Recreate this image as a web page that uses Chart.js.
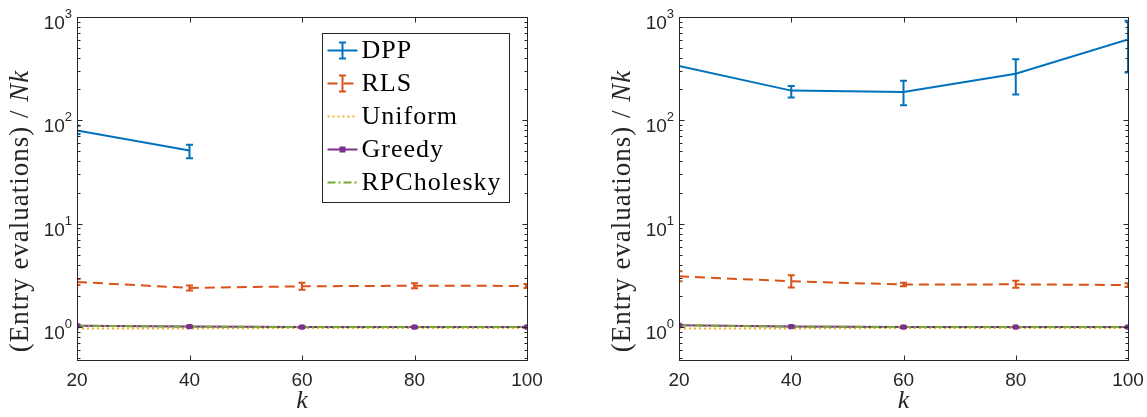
<!DOCTYPE html>
<html>
<head>
<meta charset="utf-8">
<script src="https://cdn.jsdelivr.net/npm/chart.js@4.4.1/dist/chart.umd.min.js"></script>
<style>
  body { margin: 0; background: #fff; width: 1147px; height: 417px; overflow: hidden; position: relative; }
  .panel { position: absolute; top: 0; height: 417px; }
  #left { left: 0; width: 602px; }
  #right { left: 602px; width: 545px; }
</style>
</head>
<body>
<div class="panel" id="left"><canvas id="chartLeft"></canvas></div>
<div class="panel" id="right"><canvas id="chartRight"></canvas></div>
<script>
// ---- data ----
const kValues = [20, 40, 60, 80, 100];
const yTickExps = [0, 1, 2, 3];
const seriesNames = ['DPP', 'RLS', 'Uniform', 'Greedy', 'RPCholesky'];

// left panel
const dppLeft    = [80, 51, null, null, null];
const dppLeftLo  = [73.6, 43, null, null, null];
const dppLeftHi  = [88.5, 58, null, null, null];
const rlsLeft    = [2.73, 2.39, 2.48, 2.51, 2.50];
const rlsLeftLo  = [2.55, 2.26, 2.29, 2.37, 2.39];
const rlsLeftHi  = [2.92, 2.53, 2.68, 2.65, 2.61];
const uniformLeft = [0.97, 0.97, 0.98, 0.98, 0.98];
const greedyLeft  = [1.03, 1.01, 1.0, 1.0, 1.0];
const greedyLeftLo = [1.01, 0.99, 0.98, 0.985, 0.985];
const greedyLeftHi = [1.05, 1.03, 1.02, 1.015, 1.015];
const rpcLeft     = [1.03, 1.01, 1.0, 1.0, 1.0];

// right panel
const dppRight    = [336, 194, 188, 283, 608];
const dppRightLo  = [null, 166, 140, 178, 290];
const dppRightHi  = [null, 215, 241, 390, 921];
const rlsRight    = [3.10, 2.77, 2.58, 2.59, 2.55];
const rlsRightLo  = [2.77, 2.42, 2.48, 2.40, 2.44];
const rlsRightHi  = [3.47, 3.17, 2.69, 2.80, 2.66];
const uniformRight = [0.97, 0.97, 0.98, 0.98, 0.98];
const greedyRight  = [1.04, 1.01, 1.0, 1.0, 1.0];
const greedyRightLo = [1.02, 0.99, 0.98, 0.985, 0.985];
const greedyRightHi = [1.06, 1.03, 1.02, 1.015, 1.015];
const rpcRight     = [1.04, 1.01, 1.0, 1.0, 1.0];

const COLORS = ['#0072BD', '#D95319', '#EDB120', '#7E2F8E', '#77AC30'];
const DASHES = [[], [10, 6], [2, 3], [], [8, 3, 2, 3]];
const AXIS = '#262626';
const SANS = '"Liberation Sans", Arial, sans-serif';
const SERIF = '"Liberation Serif", "Times New Roman", serif';

function makeDatasets(dpp, dppLo, dppHi, rls, rlsLo, rlsHi, uni, gr, grLo, grHi, rpc) {
  const values = [dpp, rls, uni, gr, rpc];
  const errs = [[dppLo, dppHi], [rlsLo, rlsHi], null, [grLo, grHi], null];
  return values.map((vals, i) => ({
    label: seriesNames[i],
    data: vals,
    borderColor: COLORS[i],
    backgroundColor: COLORS[i],
    borderWidth: 2,
    borderDash: DASHES[i],
    pointRadius: i === 3 ? 3 : 0,
    pointStyle: 'rect',
    pointBorderWidth: 1,
    tension: 0,
    spanGaps: false,
    order: 4 - i,
    errLo: errs[i] ? errs[i][0] : null,
    errHi: errs[i] ? errs[i][1] : null
  }));
}

// --- error bars drawn through the scales ---
const errorBars = {
  id: 'errorBars',
  afterDatasetsDraw(chart) {
    const { ctx, chartArea: a, scales: { x, y } } = chart;
    ctx.save();
    ctx.beginPath();
    ctx.rect(a.left, a.top, a.right - a.left, a.bottom - a.top);
    ctx.clip();
    chart.data.datasets.forEach(ds => {
      if (!ds.errLo) return;
      ctx.strokeStyle = ds.borderColor;
      ctx.lineWidth = 2;
      ctx.setLineDash([]);
      kValues.forEach((k, i) => {
        const lo = ds.errLo[i], hi = ds.errHi[i];
        if (lo == null || hi == null) return;
        const px = x.getPixelForValue(k);
        const p1 = y.getPixelForValue(lo), p2 = y.getPixelForValue(hi);
        const cap = 3.5;
        ctx.beginPath();
        ctx.moveTo(px, p1); ctx.lineTo(px, p2);
        ctx.moveTo(px - cap, p1); ctx.lineTo(px + cap, p1);
        ctx.moveTo(px - cap, p2); ctx.lineTo(px + cap, p2);
        ctx.stroke();
      });
    });
    ctx.restore();
  }
};

function seg(ctx, x1, y1, x2, y2) {
  ctx.beginPath(); ctx.moveTo(x1, y1); ctx.lineTo(x2, y2); ctx.stroke();
}

// --- MATLAB-style box, inward ticks, y labels ---
const frame = {
  id: 'frame',
  afterDraw(chart) {
    const { ctx, chartArea: a, scales: { x, y } } = chart;
    const L = Math.round(a.left) + 0.5, R = Math.round(a.right) + 0.5;
    const T = Math.round(a.top) + 0.5, B = Math.round(a.bottom) + 0.5;
    ctx.save();
    ctx.strokeStyle = AXIS;
    ctx.lineWidth = 1;
    ctx.setLineDash([]);
    ctx.strokeRect(L, T, R - L, B - T);

    kValues.forEach(k => {
      const px = Math.round(x.getPixelForValue(k)) + 0.5;
      seg(ctx, px, B, px, B - 5);
      seg(ctx, px, T, px, T + 5);
    });
    for (let e = -1; e <= 3; e++) {
      for (let m = 1; m <= 9; m++) {
        const v = m * Math.pow(10, e);
        if (v < y.min || v > y.max) continue;
        const py = Math.round(y.getPixelForValue(v)) + 0.5;
        const len = m === 1 ? 5 : 3;
        seg(ctx, L, py, L + len, py);
        seg(ctx, R, py, R - len, py);
      }
    }

    // y tick labels 10^n
    ctx.fillStyle = AXIS;
    ctx.textAlign = 'right';
    ctx.textBaseline = 'alphabetic';
    yTickExps.forEach(e => {
      const py = y.getPixelForValue(Math.pow(10, e));
      ctx.font = '13px ' + SANS;
      const ew = ctx.measureText(String(e)).width;
      ctx.fillText(String(e), a.left - 5, py + 1);
      ctx.font = '19px ' + SANS;
      ctx.fillText('10', a.left - 5 - ew, py + 12);
    });

    // y axis title with italic Nk
    const parts = [['(Entry evaluations) / ', 'normal'], ['Nk', 'italic']];
    ctx.translate(21, 211);
    ctx.rotate(-Math.PI / 2);
    ctx.textAlign = 'left';
    ctx.textBaseline = 'middle';
    ctx.letterSpacing = '1px';
    let total = 0;
    parts.forEach(p => { ctx.font = p[1] + ' 27px ' + SERIF; total += ctx.measureText(p[0]).width; });
    let cx = -total / 2;
    parts.forEach(p => {
      ctx.font = p[1] + ' 27px ' + SERIF;
      ctx.fillText(p[0], cx, 0);
      cx += ctx.measureText(p[0]).width;
    });
    ctx.restore();
  }
};

// --- boxed legend inside the left axes ---
const boxLegend = {
  id: 'boxLegend',
  afterDraw(chart, args, opts) {
    if (!opts || !opts.show) return;
    const { ctx, chartArea: a } = chart;
    const bx = Math.round(a.left + 245) + 0.5, by = Math.round(a.top + 16) + 0.5;
    const bw = 187, bh = 169;
    ctx.save();
    ctx.fillStyle = '#fff';
    ctx.fillRect(bx, by, bw, bh);
    ctx.strokeStyle = AXIS;
    ctx.lineWidth = 1;
    ctx.strokeRect(bx, by, bw, bh);
    chart.data.datasets.forEach((ds, i) => {
      const ry = by + 17 + i * 33;
      const x1 = bx + 5, x2 = bx + 35, xc = (x1 + x2) / 2;
      ctx.strokeStyle = ds.borderColor;
      ctx.lineWidth = 2;
      ctx.setLineDash(ds.borderDash);
      seg(ctx, x1, ry, x2, ry);
      ctx.setLineDash([]);
      if (ds.errLo && i < 2) {
        seg(ctx, xc, ry - 8, xc, ry + 8);
        seg(ctx, xc - 3.5, ry - 8, xc + 3.5, ry - 8);
        seg(ctx, xc - 3.5, ry + 8, xc + 3.5, ry + 8);
      }
      if (ds.pointRadius > 0) {
        ctx.fillStyle = ds.borderColor;
        ctx.fillRect(xc - 3, ry - 3, 6, 6);
      }
      ctx.fillStyle = '#000';
      ctx.font = '26px ' + SERIF;
      ctx.letterSpacing = '1px';
      ctx.textAlign = 'left';
      ctx.textBaseline = 'middle';
      ctx.fillText(ds.label, bx + 39, ry + 1);
    });
    ctx.restore();
  }
};

function makeChart(canvasId, datasets, rightPad, showLegend) {
  return new Chart(document.getElementById(canvasId), {
    type: 'line',
    data: { datasets: datasets.map(ds => ({ ...ds, data: ds.data.map((v, i) => ({ x: kValues[i], y: v })) })) },
    options: {
      responsive: true,
      maintainAspectRatio: false,
      animation: false,
      layout: { padding: { top: 17, right: rightPad, left: 0, bottom: 0 } },
      plugins: {
        legend: { display: false },
        tooltip: { enabled: false },
        boxLegend: { show: showLegend }
      },
      scales: {
        x: {
          type: 'linear',
          min: 20, max: 100,
          grid: { display: false },
          border: { display: false },
          ticks: { stepSize: 20, color: AXIS, font: { family: SANS, size: 19 }, padding: 1, maxRotation: 0 },
          title: { display: true, text: 'k', color: AXIS, font: { family: SERIF, size: 26, style: 'italic' }, padding: { top: 0, bottom: 0 } },
          afterFit: s => { s.height = 57; }
        },
        y: {
          type: 'logarithmic',
          min: 0.48, max: 1000,
          grid: { display: false },
          border: { display: false },
          ticks: { display: false },
          afterFit: s => { s.width = 77; }
        }
      }
    },
    plugins: [errorBars, frame, boxLegend]
  });
}

makeChart('chartLeft',
  makeDatasets(dppLeft, dppLeftLo, dppLeftHi, rlsLeft, rlsLeftLo, rlsLeftHi, uniformLeft, greedyLeft, greedyLeftLo, greedyLeftHi, rpcLeft),
  75, true);
makeChart('chartRight',
  makeDatasets(dppRight, dppRightLo, dppRightHi, rlsRight, rlsRightLo, rlsRightHi, uniformRight, greedyRight, greedyRightLo, greedyRightHi, rpcRight),
  19, false);
</script>
</body>
</html>
